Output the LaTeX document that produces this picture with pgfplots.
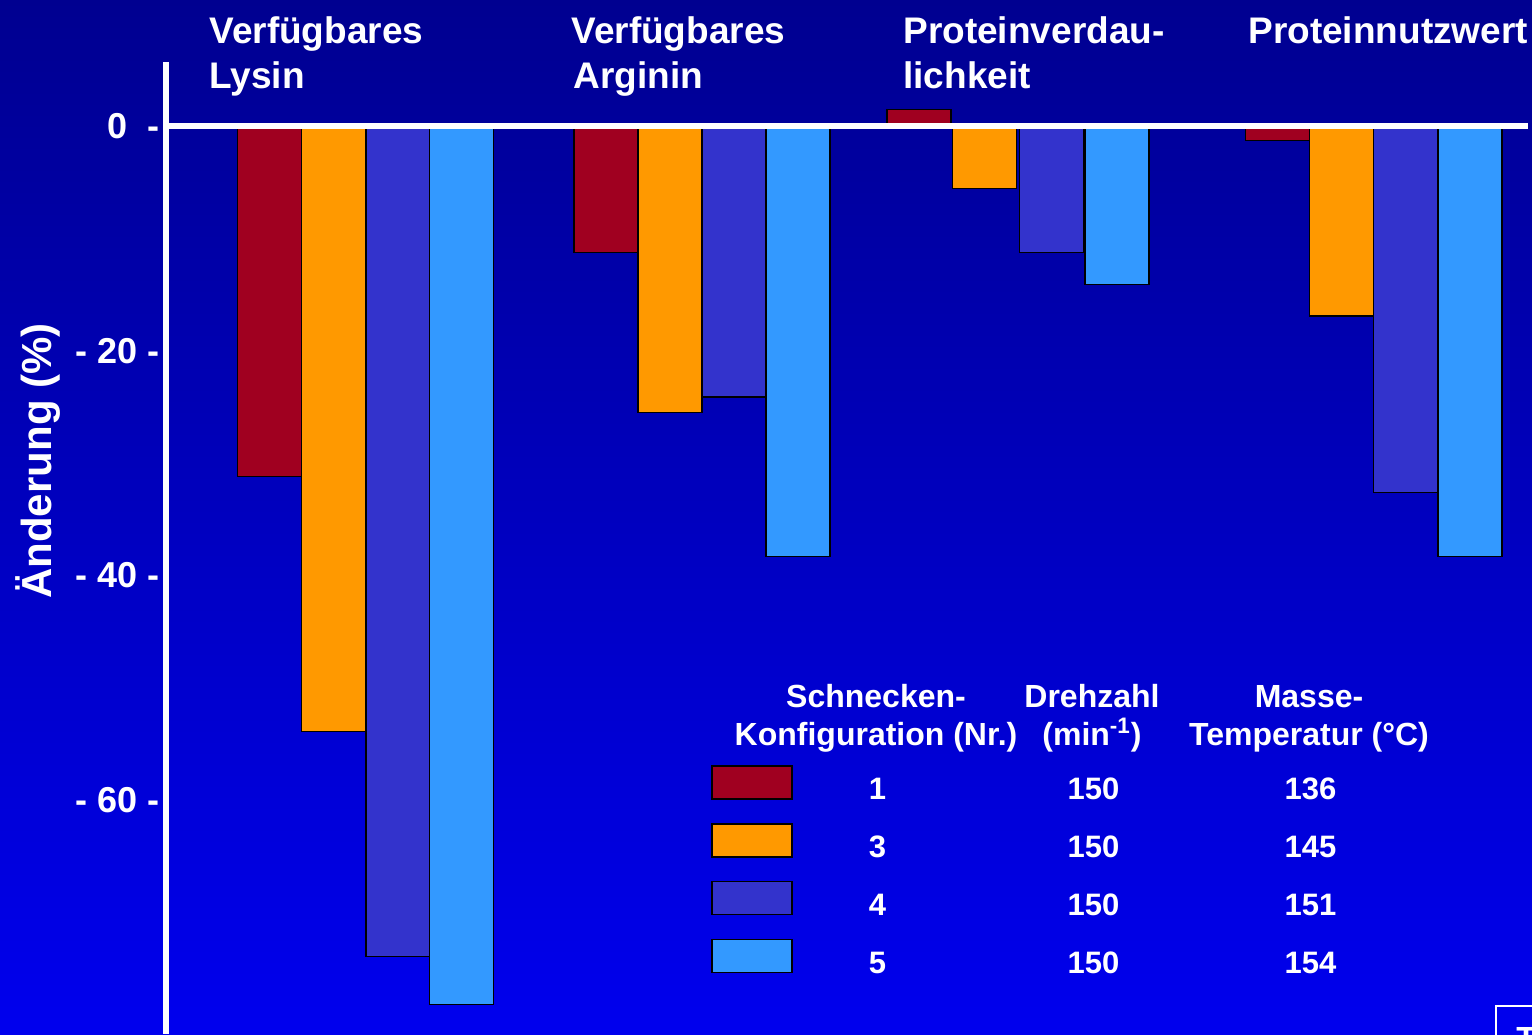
\documentclass[border=0pt]{standalone}
\usepackage{fontspec}
\setmainfont{Liberation Sans}
\usepackage{pgfplots}
\pgfplotsset{compat=1.18}
\definecolor{bgTop}{RGB}{0,0,144}
\definecolor{bgBot}{RGB}{0,0,238}
\definecolor{cRed}{RGB}{160,0,32}
\definecolor{cOrange}{RGB}{255,153,0}
\definecolor{cPurple}{RGB}{51,51,204}
\definecolor{cLight}{RGB}{51,153,255}
\pgfplotsset{
  swatch/.style={legend image code/.code={\draw[##1] (0pt,-4.25pt) rectangle (40pt,12.25pt);}},
  barstyle/.style={ybar, bar width=64, bar shift=0pt, draw=black, line width=0.75pt, fill=#1},
}
\begin{document}
\begin{tikzpicture}
\shade[top color=bgTop, bottom color=bgBot] (0,0) rectangle (766pt,517pt);
\begin{axis}[
  at={(83pt,0pt)}, anchor=south west,
  scale only axis, width=683pt, height=486pt,
  xmin=166, xmax=1532, ymin=-80.82, ymax=5.70,
  axis line style={draw=none},
  xtick=\empty,
  ytick={0,-20,-40,-60},
  yticklabels={0~~-,- 20 -,- 40 -,- 60 -},
  major tick length=0pt,
  yticklabel style={anchor=east, inner sep=0pt, xshift=-2.8pt, text=white, font=\fontsize{18}{20}\selectfont\bfseries},
  ylabel={Änderung (\%)},
  every axis y label/.style={at={(rel axis cs:-0.08346,0.5895)}, rotate=90, anchor=base, text=white, font=\fontsize{21}{24}\selectfont\bfseries},
  legend style={at={(axis cs:711,-56.88)}, anchor=north west, draw=none, fill=none, inner sep=0pt, outer sep=0pt, column sep=0pt, row sep=10.2pt, nodes={inner sep=0pt, outer sep=0pt, text=white, font=\fontsize{15.5}{18}\selectfont\bfseries}},
  legend cell align=left,
  clip=false,
]
\addplot[barstyle=cRed, swatch] coordinates {(269.7,-31.2) (606,-11.26) (918.8,1.47) (1277.5,-1.29)};
\addlegendentry{\makebox[85pt][c]{1}\makebox[131pt][c]{150}\makebox[86pt][c]{136}}
\addplot[barstyle=cOrange, swatch] coordinates {(333.7,-53.9) (670,-25.5) (984.7,-5.56) (1341.5,-16.9)};
\addlegendentry{\makebox[85pt][c]{3}\makebox[131pt][c]{150}\makebox[86pt][c]{145}}
\addplot[barstyle=cPurple, swatch] coordinates {(397.8,-73.9) (734,-24.1) (1051.7,-11.26) (1405.7,-32.6)};
\addlegendentry{\makebox[85pt][c]{4}\makebox[131pt][c]{150}\makebox[86pt][c]{151}}
\addplot[barstyle=cLight, swatch] coordinates {(461.7,-78.2) (798,-38.3) (1117.2,-14.1) (1470,-38.3)};
\addlegendentry{\makebox[85pt][c]{5}\makebox[131pt][c]{150}\makebox[86pt][c]{154}}
\draw[white, line width=3pt] (axis cs:166,0) -- (axis cs:1528,0);
\draw[white, line width=3pt] (axis cs:166.5,5.70) -- (axis cs:166.5,-80.82);
\end{axis}
\begin{scope}[x=0.5pt, y=-0.5pt, shift={(0pt,517pt)}, every node/.style={text=white, inner sep=0pt}]
  \begin{scope}[font=\fontsize{18.5}{22}\selectfont\bfseries]
    \node[anchor=base west] at (209,43.3) {Verfügbares};
    \node[anchor=base west] at (209,88.3) {Lysin};
    \node[anchor=base west] at (571,43.3) {Verfügbares};
    \node[anchor=base west] at (573,88.3) {Arginin};
    \node[anchor=base west] at (903,43.3) {Proteinverdau-};
    \node[anchor=base west] at (903,88.3) {lichkeit};
    \node[anchor=base west] at (1248,43.3) {Proteinnutzwert};
  \end{scope}
  \begin{scope}[font=\fontsize{16}{18}\selectfont\bfseries]
    \node[anchor=base] at (876,708) {Schnecken-};
    \node[anchor=base] at (876,746) {Konfiguration (Nr.)};
    \node[anchor=base] at (1092,708) {Drehzahl};
    \node[anchor=base] at (1092,746) {(min\textsuperscript{-1})};
    \node[anchor=base] at (1309,708) {Masse-};
    \node[anchor=base] at (1309,746) {Temperatur (°C)};
    \draw[white, line width=1pt] (1496,1006) rectangle (1570,1070);
    \node[anchor=base west] at (1516,1049) {T};
  \end{scope}
\end{scope}
\pgfresetboundingbox
\useasboundingbox (0,0) rectangle (766pt,517pt);
\end{tikzpicture}
\end{document}
